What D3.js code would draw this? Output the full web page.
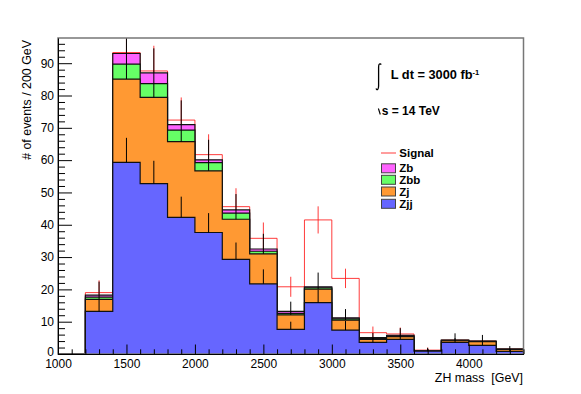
<!DOCTYPE html>
<html><head><meta charset="utf-8">
<script src="https://cdn.jsdelivr.net/npm/d3@7"></script>
<style>
body{margin:0;background:#fff;}
text{font-family:"Liberation Sans",Arial,Helvetica,sans-serif;}
</style></head>
<body><svg id="c" width="581" height="394"></svg>
<script>
// ---- data (bins of 200 GeV from 1000 to 4400) ----
const binLow = [1000,1200,1400,1600,1800,2000,2200,2400,2600,2800,3000,3200,3400,3600,3800,4000,4200];
const binWidth = 200;
const zjj = [0, 13.2, 59.3, 52.7, 42.3, 37.6, 29.3, 21.7, 7.6, 15.9, 7.4, 3.6, 4.5, 0.9, 3.6, 2.7, 0.8];
const zj  = [0, 3.7, 25.8, 26.7, 23.4, 19.1, 12.4, 9.3, 4.5, 4.2, 3.1, 0.9, 0.9, 0.0, 0.5, 1.1, 0.6];
const zbb = [0, 0.7, 4.6, 4.3, 3.6, 2.5, 1.9, 0.8, 0.5, 0.4, 0.4, 0.3, 0.2, 0.0, 0.1, 0.1, 0.1];
const zb  = [0, 0.6, 3.3, 3.3, 1.7, 0.9, 1.0, 0.7, 0.6, 0.3, 0.3, 0.3, 0.2, 0.0, 0.1, 0.1, 0.05];
const signal = [0.15, 0.8, 0.3, 0.6, 1.4, 1.6, 1.0, 3.3, 7.6, 20.7, 12.2, 1.5, 0.4, 0.3, 0.0, 0.0, 0.0];
const signalErr = [0, 3.8, 9.7, 7.8, 7.0, 6.3, 5.7, 4.9, 3.1, 4.2, 3.0, 1.9, 2.0, 0.8, 0, 0, 0];
const bkgErr = [0, 4.2, 9.6, 7.6, 7.5, 6.2, 4.9, 4.7, 3.0, 4.4, 2.7, 1.4, 2.2, 1.0, 2.1, 1.9, 0.9];
const zjjErr = [0, 3.6, 7.6, 7.1, 6.4, 6.0, 5.2, 4.5, 2.4, 4.0, 2.8, 1.2, 1.4, 0.6, 1.3, 1.1, 0.6];
const xTickMajor = [1000,1500,2000,2500,3000,3500,4000];
const yTickMajor = [0,10,20,30,40,50,60,70,80,90];
const legendNames = ["Signal","Zb","Zbb","Zj","Zjj"];
const colors = {Zb:"#ff63ff", Zbb:"#66ff66", Zj:"#ff9933", Zjj:"#6666ff", Signal:"#ff1a1a"};

// ---- layout ----
const svg = d3.select("#c");
svg.append("rect").attr("width",581).attr("height",394).attr("fill","#fff");
const x = d3.scaleLinear().domain([1000,4400]).range([58,523.5]);
const y = d3.scaleLinear().domain([0,97.8]).range([354,38]);

svg.append("clipPath").attr("id","fr").append("rect")
  .attr("x",58).attr("y",38).attr("width",465.5).attr("height",316);
const g = svg.append("g").attr("clip-path","url(#fr)");

// cumulative levels
const n = binLow.length;
const lvl0 = zjj.slice();
const lvl1 = lvl0.map((v,i)=>v+zj[i]);
const lvl2 = lvl1.map((v,i)=>v+zbb[i]);
const lvl3 = lvl2.map((v,i)=>v+zb[i]);
const sigTot = lvl3.map((v,i)=>v+signal[i]);

function stepPts(vals){
  const pts=[[binLow[0],0]];
  vals.forEach((v,i)=>{pts.push([binLow[i],v]);pts.push([binLow[i]+binWidth,v]);});
  pts.push([binLow[n-1]+binWidth,0]);
  return pts;
}
const line = d3.line().x(d=>x(d[0])).y(d=>y(d[1]));
const area = d3.area().x(d=>x(d[0])).y0(y(0)).y1(d=>y(d[1]));
const ctr = i => x(binLow[i]+binWidth/2);

// signal (drawn first, behind the stack)
g.append("path").attr("d",line(stepPts(sigTot))).attr("fill","none")
  .attr("stroke",colors.Signal).attr("stroke-width",1).attr("opacity",0.85);
g.selectAll(".serr").data(d3.range(n).filter(i=>signalErr[i]>0)).join("line")
  .attr("x1",ctr).attr("x2",ctr)
  .attr("y1",i=>y(sigTot[i]-signalErr[i])).attr("y2",i=>y(sigTot[i]+signalErr[i]))
  .attr("stroke",colors.Signal).attr("stroke-width",1).attr("opacity",0.85);

// stack, drawn from the largest cumulative down
const layers = [[lvl3,colors.Zb],[lvl2,colors.Zbb],[lvl1,colors.Zj],[lvl0,colors.Zjj]];
layers.forEach(([vals,col])=>{
  const pts = stepPts(vals);
  g.append("path").attr("d",area(pts)).attr("fill",col).attr("stroke","none");
  g.append("path").attr("d",line(pts)).attr("fill","none")
    .attr("stroke","#111").attr("stroke-width",1.2);
});

// error bars
g.selectAll(".berr").data(d3.range(n).filter(i=>lvl3[i]>0)).join("line")
  .attr("x1",ctr).attr("x2",ctr)
  .attr("y1",i=>y(lvl1[i])).attr("y2",i=>y(lvl3[i]+bkgErr[i]))
  .attr("stroke","#000").attr("stroke-width",1);
g.selectAll(".jerr").data(d3.range(n).filter(i=>lvl0[i]>0)).join("line")
  .attr("x1",ctr).attr("x2",ctr)
  .attr("y1",i=>y(lvl0[i])).attr("y2",i=>y(lvl0[i]+zjjErr[i]))
  .attr("stroke","#000").attr("stroke-width",1);

// frame
svg.append("rect").attr("x",58).attr("y",38).attr("width",465.5).attr("height",316)
  .attr("fill","none").attr("stroke","#777").attr("stroke-width",1.5);

// axes
const fs = "12px";
const xMinor = d3.range(1000,4401,100).filter(v=>v%500!==0);
svg.append("g").attr("transform","translate(0,354)")
  .call(d3.axisBottom(x).tickValues(xMinor).tickSize(-4.7).tickSizeOuter(0).tickFormat(""))
  .call(a=>a.select(".domain").remove());
const xa = svg.append("g").attr("transform","translate(0,354)")
  .call(d3.axisBottom(x).tickValues(xTickMajor).tickSize(-9.5).tickSizeOuter(0).tickPadding(5).tickFormat(d3.format("d")));
xa.select(".domain").attr("stroke","#000");
xa.selectAll("text").attr("font-size",fs).attr("fill","#000").attr("font-family","Liberation Sans, Arial, sans-serif");

const yMinor = d3.range(0,97,2).filter(v=>v%10!==0);
svg.append("g").attr("transform","translate(58,0)")
  .call(d3.axisLeft(y).tickValues(yMinor).tickSize(-7).tickSizeOuter(0).tickFormat(""))
  .call(a=>a.select(".domain").remove());
const ya = svg.append("g").attr("transform","translate(58,0)")
  .call(d3.axisLeft(y).tickValues(yTickMajor).tickSize(-14).tickSizeOuter(0).tickPadding(4).tickFormat(d3.format("d")));
ya.select(".domain").attr("stroke","#000");
ya.selectAll("text").attr("font-size",fs).attr("fill","#000").attr("font-family","Liberation Sans, Arial, sans-serif");
ya.selectAll(".tick").filter(d=>d===0).select("text").attr("dy","0.1em");
svg.selectAll(".tick line").attr("stroke","#000");

// axis titles
svg.append("text").attr("x",523).attr("y",381.5).attr("text-anchor","end")
  .attr("font-size","12.4px").style("white-space","pre").text("ZH mass  [GeV]");
svg.append("text").attr("transform","translate(30.5,40) rotate(-90)").attr("text-anchor","end")
  .attr("font-size","12.4px").text("# of events / 200 GeV");

// luminosity / energy labels
svg.append("path").attr("d","M376,88.5 C377,90.8 378.6,89.5 378.6,86 L378.6,67 C378.6,63.8 380,63 381.2,64.6")
  .attr("fill","none").attr("stroke","#000").attr("stroke-width",1.3);
const lum = svg.append("text").attr("x",390.7).attr("y",79.3).attr("font-size","12.8px").attr("font-weight","bold");
lum.append("tspan").text("L dt = 3000 fb");
lum.append("tspan").attr("dy",-4.5).attr("font-size","7.5px").text("-1");
svg.append("path").attr("d","M378.4,108.5 L380.3,114.5").attr("stroke","#000").attr("stroke-width",1.1);
svg.append("text").attr("x",381.7).attr("y",115).attr("font-size","12px").attr("font-weight","bold")
  .text("s = 14 TeV");

// legend
const legY = [153, 168.3, 179.8, 191.5, 203.8];
legendNames.forEach((nm,i)=>{
  const cy = legY[i];
  if(nm==="Signal"){
    svg.append("line").attr("x1",381).attr("x2",396).attr("y1",cy).attr("y2",cy)
      .attr("stroke",colors.Signal).attr("stroke-width",1).attr("opacity",0.85);
  } else {
    svg.append("rect").attr("x",381.5).attr("y",cy-4.5).attr("width",14).attr("height",9)
      .attr("fill",colors[nm]).attr("stroke","#444").attr("stroke-width",1);
  }
  svg.append("text").attr("x",399.3).attr("y",cy+4).attr("font-size","11.5px").attr("font-weight","bold").text(nm);
});
</script></body></html>
